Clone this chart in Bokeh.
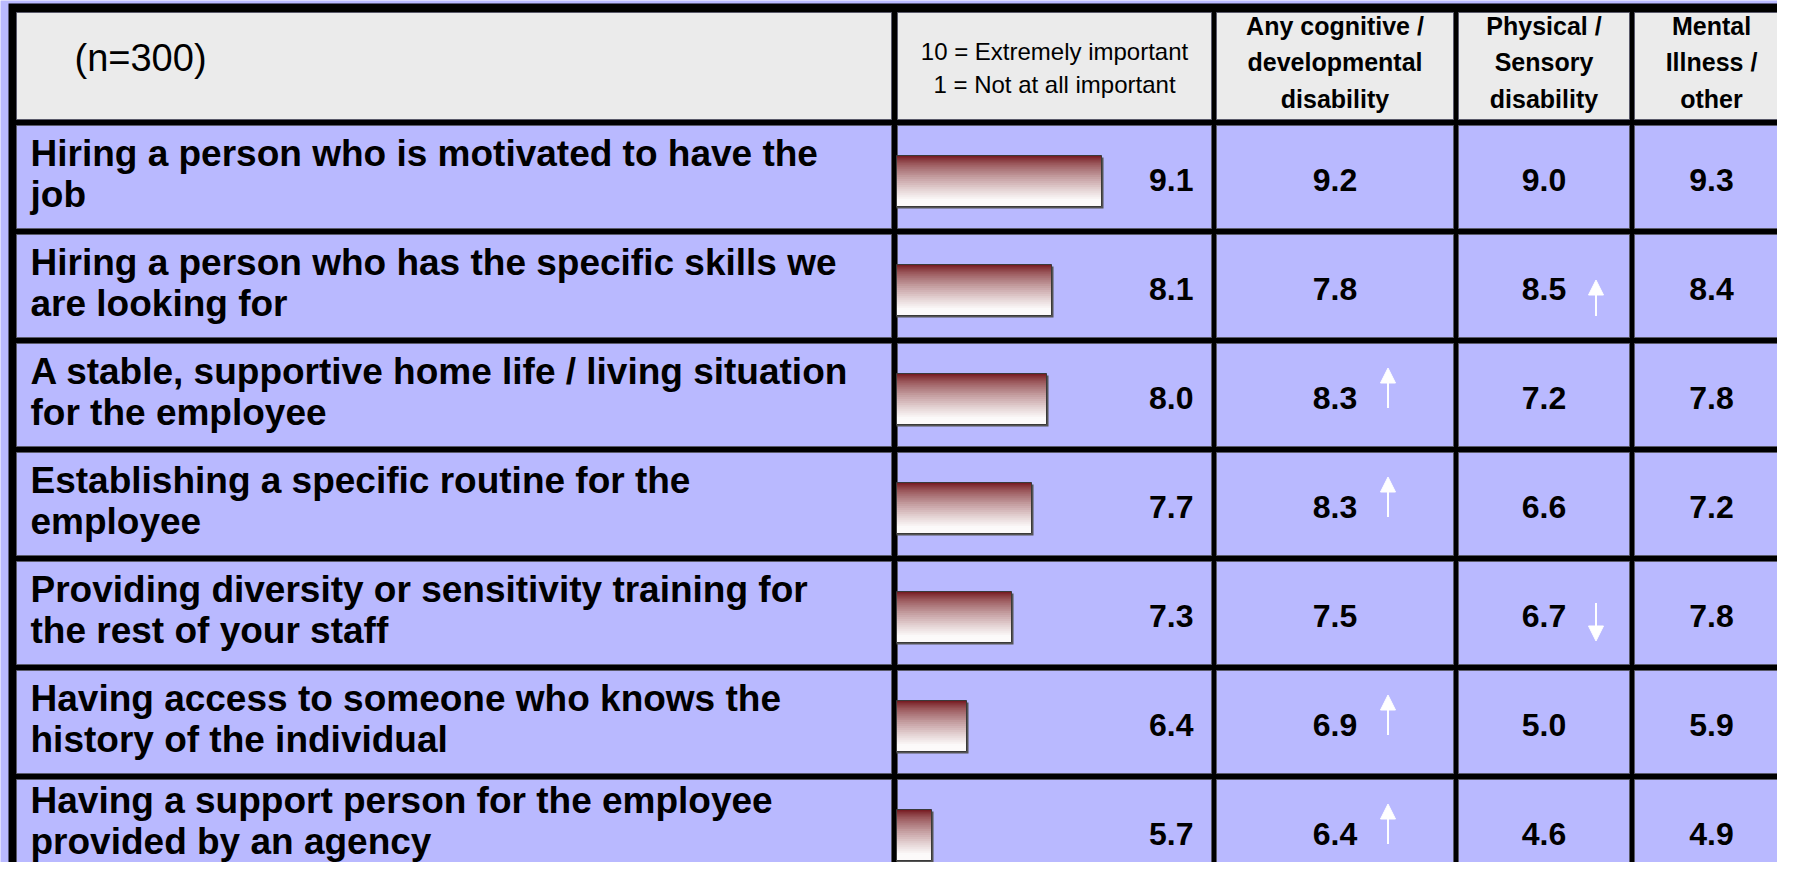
from bokeh.plotting import figure
from bokeh.models import Range1d, Arrow, NormalHead, ColumnDataSource
from bokeh.core.properties import value
from bokeh.embed import file_html
from bokeh.resources import INLINE

# ---------------- data ----------------
labels = [
    "Hiring a person who is motivated to have the\njob",
    "Hiring a person who has the specific skills we\nare looking for",
    "A stable, supportive home life / living situation\nfor the employee",
    "Establishing a specific routine for the\nemployee",
    "Providing diversity or sensitivity training for\nthe rest of your staff",
    "Having access to someone who knows the\nhistory of the individual",
    "Having a support person for the employee\nprovided by an agency",
]
overall = [9.1, 8.1, 8.0, 7.7, 7.3, 6.4, 5.7]
cognitive = [9.2, 7.8, 8.3, 8.3, 7.5, 6.9, 6.4]
physical = [9.0, 8.5, 7.2, 6.6, 6.7, 5.0, 4.6]
mental = [9.3, 8.4, 7.8, 7.2, 7.8, 5.9, 4.9]
# significance markers: 1 = up arrow, -1 = down arrow
cognitive_sig = [0, 0, 1, 1, 0, 1, 1]
physical_sig = [0, 1, 0, 0, -1, 0, 0]
mental_sig = [0, 0, 0, 0, 0, 0, 0]
col_headers = ["Any cognitive /\ndevelopmental\ndisability",
               "Physical /\nSensory\ndisability",
               "Mental\nIllness /\nother"]
scale_lines = ["10 = Extremely important", "1 = Not at all important"]
sample_note = "(n=300)"
bar_base = 5.0

# ---------------- layout (page pixels) ----------------
W, H = 1777, 862
PITCH = 109.0
HEADER_LINE = 122.0
ROW0_CENTER = HEADER_LINE + PITCH / 2
BAR_X0 = 896.0
PX_PER_UNIT = 50.0
FONT = value("Liberation Sans")

LAV = "#B9B9FF"
HEAD = "#EBEBEB"

p = figure(width=W, height=H, output_backend="svg", toolbar_location=None,
           x_range=Range1d(0, W), y_range=Range1d(H, 0),
           x_axis_location=None, y_axis_location=None, min_border=0,
           background_fill_color=LAV, border_fill_color=LAV,
           outline_line_color=None, tools="")
p.grid.visible = False
p.extra_x_ranges = {"bar": Range1d(bar_base - BAR_X0 / PX_PER_UNIT,
                                   bar_base + (W - BAR_X0) / PX_PER_UNIT)}
p.extra_y_ranges = {"row": Range1d((H - ROW0_CENTER) / PITCH, (0 - ROW0_CENTER) / PITCH)}
RPX = 1.0 / PITCH  # row units per pixel

# table frame
col_left = [16, 897, 1216, 1458, 1634]
col_right = [891, 1211, 1453, 1629, 1788]
col_center = [(a + b) / 2 for a, b in zip(col_left, col_right)]
p.quad(left=[8], right=[1800], top=[3], bottom=[900], fill_color="black", line_color=None)
n = len(labels)
ql, qr, qt, qb, qc = [], [], [], [], []
for c in range(5):
    ql.append(col_left[c]); qr.append(col_right[c]); qt.append(12); qb.append(HEADER_LINE - 3); qc.append(HEAD)
    for r in range(n):
        top = HEADER_LINE + PITCH * r + 3
        ql.append(col_left[c]); qr.append(col_right[c]); qt.append(top); qb.append(top + PITCH - 6); qc.append(LAV)
p.quad(left=ql, right=qr, top=qt, bottom=qb, fill_color=qc, line_color="#5a5a6a", line_width=1)

# header texts
p.text(x=[74], y=[57], text=[sample_note], text_font=FONT,
       text_font_size="38px", text_baseline="middle", text_align="left", text_color="black")
p.text(x=[col_center[1]] * 2, y=[51, 84], text=scale_lines, text_font=FONT,
       text_font_size="24px", text_baseline="middle", text_align="center", text_color="black")
p.text(x=col_center[2:], y=[62] * 3, text=col_headers, text_font=FONT,
       text_font_style="bold", text_font_size="25px", text_baseline="middle", text_align="center",
       text_line_height=1.3, text_color="black")

rows = list(range(n))
# row labels (last one nudged up a little so it stays inside the canvas)
label_y = [r - 3 * RPX - (7 * RPX if r == n - 1 else 0) for r in rows]
p.text(x=[30] * n, y=label_y, y_range_name="row", text=labels, text_font=FONT,
       text_font_style="bold", text_font_size="37px", text_baseline="middle", text_align="left",
       text_line_height=1.0, text_color="black")

# gradient bars
N = 26
top_rgb = (110, 14, 20)
bot_rgb = (252, 250, 250)
half = 25.5 * RPX
off = 4 * RPX
dh = 2 * half / N
sl, sr, st, sb, sc = [], [], [], [], []
for i, v in enumerate(overall):
    for k in range(N):
        t = (k + 0.5) / N
        f = min(1.0, t ** 0.7 * 1.1)
        col = "#%02x%02x%02x" % tuple(int(round(a + (b - a) * f)) for a, b in zip(top_rgb, bot_rgb))
        sl.append(bar_base); sr.append(v)
        top = i + off - half + k * dh
        st.append(top); sb.append(min(top + dh + 1.2 * RPX, i + off + half))
        sc.append(col)
# shadow
p.quad(left=[bar_base] * n, right=[v + 2 / PX_PER_UNIT for v in overall],
       top=[i + off - half + 2 * RPX for i in rows], bottom=[i + off + half + 2 * RPX for i in rows],
       x_range_name="bar", y_range_name="row", fill_color="#555555", line_color=None)
p.quad(left=sl, right=sr, top=st, bottom=sb, x_range_name="bar", y_range_name="row",
       fill_color=sc, line_color=None)
p.quad(left=[bar_base] * n, right=overall,
       top=[i + off - half for i in rows], bottom=[i + off + half for i in rows],
       x_range_name="bar", y_range_name="row", fill_color=None, line_color="#3a3a3a", line_width=1)

# values
fmt = lambda vals: ["%.1f" % v for v in vals]
val_y = [r + 3 * RPX for r in rows]
p.text(x=[1193] * n, y=val_y, y_range_name="row", text=fmt(overall), text_font=FONT,
       text_font_style="bold", text_font_size="32px", text_baseline="middle", text_align="right",
       text_color="black")
for c, vals in zip([2, 3, 4], [cognitive, physical, mental]):
    p.text(x=[col_center[c]] * n, y=val_y, y_range_name="row", text=fmt(vals),
           text_font=FONT, text_font_style="bold", text_font_size="32px",
           text_baseline="middle", text_align="center", text_color="black")

# significance arrows
for c, sig, dx, up_off in [(2, cognitive_sig, 53, (13, -27)), (3, physical_sig, 52, (30, -6)),
                           (4, mental_sig, 52, (13, -27))]:
    xs, ys, xe, ye = [], [], [], []
    for r, s in enumerate(sig):
        if s == 0:
            continue
        xs.append(col_center[c] + dx); xe.append(col_center[c] + dx)
        if s > 0:
            ys.append(r + up_off[0] * RPX); ye.append(r + up_off[1] * RPX)
        else:
            ys.append(r - 10 * RPX); ye.append(r + 28 * RPX)
    if xs:
        src = ColumnDataSource(dict(xs=xs, ys=ys, xe=xe, ye=ye))
        p.add_layout(Arrow(end=NormalHead(size=15, fill_color="white", line_color="white", line_width=1),
                           x_start="xs", y_start="ys", x_end="xe", y_end="ye", source=src,
                           y_range_name="row", line_color="white", line_width=2))

open("out.html", "w").write(file_html(p, INLINE))
